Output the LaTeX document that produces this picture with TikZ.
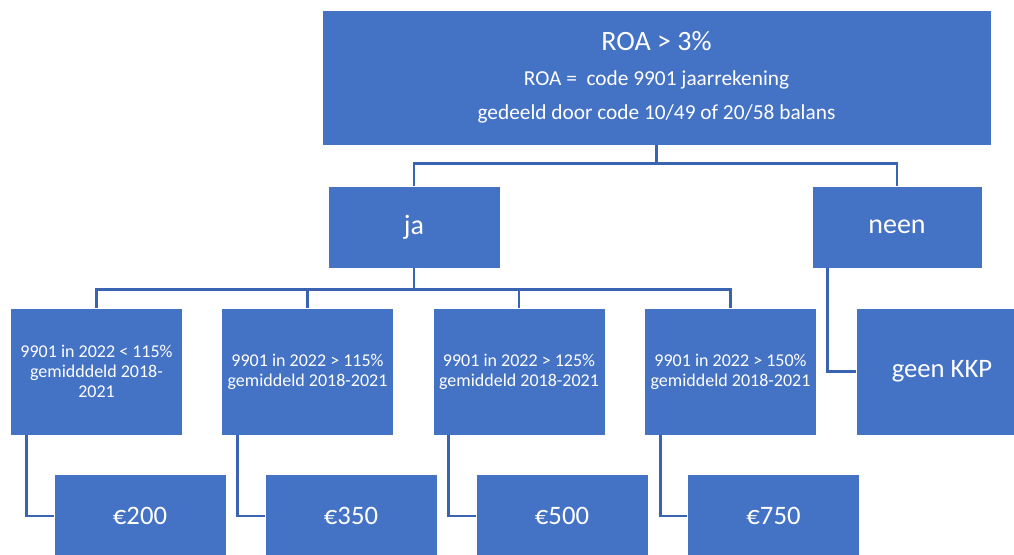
\documentclass[tikz,border=0pt]{standalone}
\usepackage{fontspec}
\setmainfont{Carlito}
\usepackage{tikz}
\definecolor{boxblue}{HTML}{4472C4}
\definecolor{lineblue}{RGB}{58,100,178}

\begin{document}
\begin{tikzpicture}[x=0.75pt, y=-0.75pt, text=white,
        main/.style = {draw=white, line width=0.5pt, fill=boxblue, minimum width=172*0.75pt, inner sep=2pt},
        cond/.style = {main, minimum height=127*0.75pt, align=center, font=\fontsize{13.5}{15}\selectfont},
        amount/.style = {main, minimum height=84*0.75pt, font=\fontsize{20}{24}\selectfont},
        conn/.style = {draw=lineblue, line width=2.2pt}]
        \useasboundingbox (0,0) rectangle (1014,554);
        \node[main, minimum width=669*0.75pt, minimum height=135*0.75pt, align=center, font=\fontsize{16}{26}\selectfont] (roa) at (656.5,77.5)
            {{\fontsize{21}{26}\selectfont ROA > 3\%}\\ROA =\ \ code 9901 jaarrekening\\gedeeld door code 10/49 of 20/58 balans};
        \node[main, minimum height=82*0.75pt, font=\fontsize{21}{25}\selectfont] (ja) at (414,227) {ja};
        \node[main, minimum width=170*0.75pt, minimum height=82*0.75pt, font=\fontsize{21}{25}\selectfont] (neen) at (897,227) {neen};
        \node[cond] (c1) at (96.5,371.5) {9901 in 2022 < 115\%\\gemidddeld 2018-\\2021};
        \node[cond] (c2) at (307.5,371.5) {9901 in 2022 > 115\%\\gemiddeld 2018-2021};
        \node[cond] (c3) at (519,371.5) {9901 in 2022 > 125\%\\gemiddeld 2018-2021};
        \node[cond] (c4) at (730.5,371.5) {9901 in 2022 > 150\%\\gemiddeld 2018-2021};
        \node[main, minimum height=127*0.75pt, font=\fontsize{20}{24}\selectfont] (geen) at (942,371.5) {geen KKP};
        \node[amount] (e1) at (140,516) {€200};
        \node[amount] (e2) at (351,516) {€350};
        \node[amount] (e3) at (562,516) {€500};
        \node[amount] (e4) at (773.5,516) {€750};

        \draw[conn] (roa.south) -- ++(0,18) -| (ja.north);
        \draw[conn] (roa.south) -- ++(0,18) -| (neen.north);
        \draw[conn] (ja.south) -- ++(0,21) -| (c1.north);
        \draw[conn] (ja.south) -- ++(0,21) -| (c2.north);
        \draw[conn] (ja.south) -- ++(0,21) -| (c3.north);
        \draw[conn] (ja.south) -- ++(0,21) -| (c4.north);
        \draw[conn] ([xshift=12pt]neen.south west) |- (geen.west);
        \draw[conn] ([xshift=12pt]c1.south west) |- (e1.west);
        \draw[conn] ([xshift=12pt]c2.south west) |- (e2.west);
        \draw[conn] ([xshift=12pt]c3.south west) |- (e3.west);
        \draw[conn] ([xshift=12pt]c4.south west) |- (e4.west);
\end{tikzpicture}
\end{document}
